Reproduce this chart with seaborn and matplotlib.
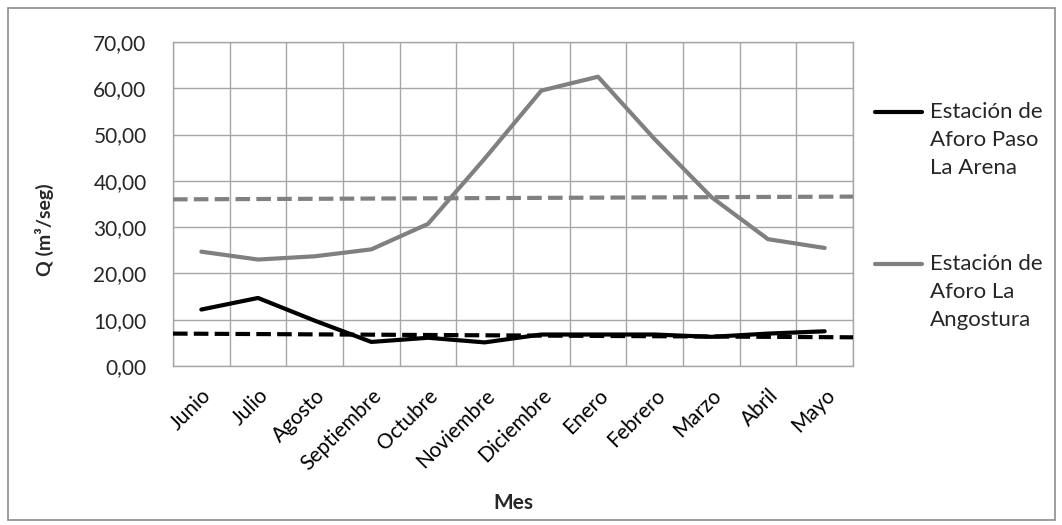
import numpy as np
import pandas as pd
import matplotlib
matplotlib.use("Agg")
import matplotlib.pyplot as plt
import seaborn as sns
from matplotlib.lines import Line2D
from matplotlib.patches import Rectangle
from matplotlib.ticker import FuncFormatter, FixedLocator
from matplotlib.transforms import ScaledTranslation

meses = ["Junio", "Julio", "Agosto", "Septiembre", "Octubre", "Noviembre",
         "Diciembre", "Enero", "Febrero", "Marzo", "Abril", "Mayo"]
paso_la_arena = [12.2, 14.7, 9.8, 5.2, 6.1, 5.1, 6.8, 6.8, 6.8, 6.3, 7.0, 7.5]
la_angostura = [24.7, 23.0, 23.7, 25.2, 30.7, 44.8, 59.5, 62.5, 49.0, 36.5, 27.4, 25.5]
trend_paso = [7.0, 6.2]        # trend line value at left / right edge
trend_angostura = [36.0, 36.6]
series_names = ["Estación de\nAforo Paso\nLa Arena", "Estación de\nAforo La\nAngostura"]
series_colors = ["#000000", "#808080"]

sns.set_style("white")
plt.rcParams["font.family"] = ["Lato", "DejaVu Sans"]

df = pd.DataFrame({
    "Mes": meses * 2,
    "idx": list(range(12)) * 2,
    "Q": paso_la_arena + la_angostura,
    "Serie": [series_names[0]] * 12 + [series_names[1]] * 12,
})

W, H = 1062, 525
fig = plt.figure(figsize=(W / 100, H / 100), dpi=100)
ax = fig.add_axes([173 / W, 1 - 366 / H, 680 / W, 324 / H])

sns.lineplot(data=df, x="idx", y="Q", hue="Serie", palette=series_colors,
             linewidth=3, ax=ax, legend=False, sort=False)

edges = [-0.5, 11.5]
for tr, c in zip([trend_paso, trend_angostura], series_colors):
    ax.plot(edges, tr, color=c, linestyle=(0, (3.5, 1.5)), linewidth=3, zorder=3)

ax.set_xlim(-0.5, 11.5)
ax.set_ylim(0, 70)
ax.set_yticks(np.arange(0, 71, 10))
ax.yaxis.set_major_formatter(FuncFormatter(lambda v, p: f"{v:.2f}".replace(".", ",")))
ax.xaxis.set_major_locator(FixedLocator(np.arange(-0.5, 12, 1)))
ax.xaxis.set_minor_locator(FixedLocator(np.arange(0, 12, 1)))
ax.set_xticklabels([], minor=False)
labels = ax.set_xticklabels(meses, minor=True, rotation=45, ha="right", va="top",
                            rotation_mode="anchor", fontsize=15, color="#000000")
off = ScaledTranslation(12 / 100, 0, fig.dpi_scale_trans)
for t in labels:
    t.set_transform(t.get_transform() + off)
ax.tick_params(axis="x", which="minor", length=0, pad=14)
ax.tick_params(axis="x", which="major", length=7, color="#a0a0a0", direction="out")
ax.tick_params(axis="y", length=7, color="#a0a0a0", direction="out", labelsize=15, pad=12)
ax.grid(True, which="major", color="#a6a6a6", linewidth=1)
for s in ax.spines.values():
    s.set_color("#a6a6a6")
    s.set_linewidth(1)

ax.set_xlabel("Mes", fontsize=15, fontweight="bold", labelpad=14)
ax.set_ylabel("Q (m³/seg)", fontsize=14, fontweight="bold", labelpad=16)
ax.yaxis.set_label_coords(-0.175, 0.42)

# legend drawn manually (line aligned with first text line)
leg_y = [112, 264]
line_gap = 28
for name, c, y in zip(series_names, series_colors, leg_y):
    fig.add_artist(Line2D([875 / W, 922 / W], [1 - y / H, 1 - y / H], color=c,
                          linewidth=3, transform=fig.transFigure))
    for i, part in enumerate(name.split("\n")):
        fig.text(930 / W, 1 - (y + i * line_gap) / H, part, fontsize=16,
                 va="center", ha="left")

fig.add_artist(Rectangle((8 / W, 5 / H), 1047 / W, 512 / H, transform=fig.transFigure,
                         fill=False, edgecolor="#8c8c8c", linewidth=1.2))

fig.savefig("out.png", dpi=100)
